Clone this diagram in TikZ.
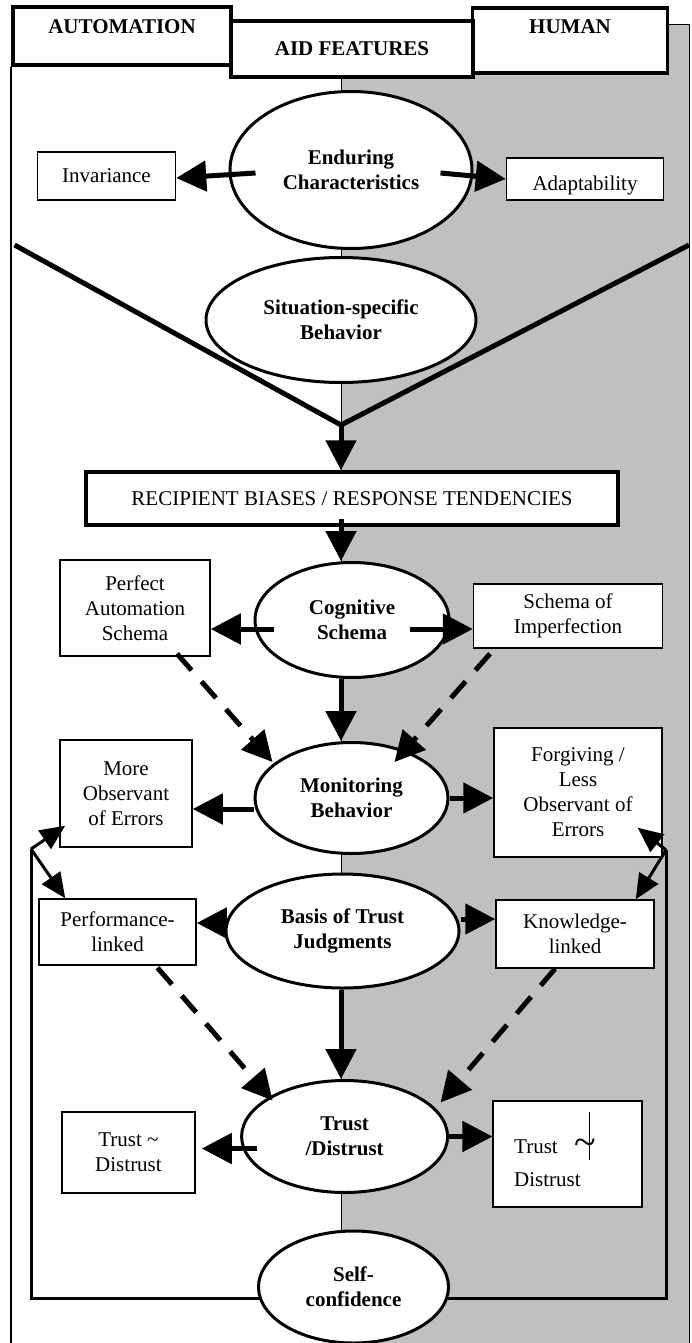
\documentclass[tikz,border=0pt]{standalone}
\usepackage{fontspec}
\setmainfont{Liberation Serif}
\usetikzlibrary{arrows.meta,shapes.geometric,calc}
\definecolor{shade}{RGB}{192,192,192}

\begin{document}
\begin{tikzpicture}[x=1pt, y=-1pt,
  every node/.style={font=\fontsize{21}{25}\selectfont, align=center, inner sep=0pt},
  hdr/.style={draw, line width=3.5pt, fill=white, font=\fontsize{21}{25}\selectfont\bfseries},
  box/.style={draw, line width=1.5pt, fill=white},
  oval/.style={ellipse, draw, line width=3pt, fill=white, font=\fontsize{21}{25}\selectfont\bfseries},
  arr/.style={line width=5pt, -{Triangle[length=30pt,width=30pt]}},
  darr/.style={arr, dash pattern=on 22pt off 15pt},
  larr/.style={line width=3pt, -{Triangle[length=25pt,width=22pt]}}]

\useasboundingbox (0,0) rectangle (691,1343);

% human half
\draw[fill=shade, line width=1pt] (341,25) rectangle (689,1360);

% column heads
\node[hdr, minimum width=218pt, minimum height=58pt, text height=14pt, text depth=18pt] (auto) at (122,36) {AUTOMATION};
\node[hdr, minimum width=195pt, minimum height=65pt, text height=14pt, text depth=27pt] (hum) at (570,40.5) {HUMAN};
\node[hdr, minimum width=242pt, minimum height=56pt] (aid) at (352,49) {AID FEATURES};
\draw[line width=2pt] (auto.south west) -- ++(0,1300);

% funnel
\coordinate (vl) at (14.6,245);
\coordinate (vr) at (689,245);
\coordinate (apex) at (341,425);
\draw[line width=5pt] (vl) -- (apex) -- (vr);

% feedback loop
\coordinate (lt) at (31,849);
\coordinate (lb) at (31,1298);
\coordinate (rb) at (666,1298);
\coordinate (rt) at (666,850);
\draw[line width=3pt] (lt) -- (lb) -- (rb) -- (rt);

% ovals
\node[oval, minimum width=242pt, minimum height=157pt] (endur) at (351,170) {Enduring\\Characteristics};
\node[oval, minimum width=270pt, minimum height=125pt] (situ) at (341,320) {Situation-specific\\Behavior};
\node[oval, minimum width=194pt, minimum height=115pt] (cog) at (352,620) {Cognitive\\Schema};
\node[oval, minimum width=193pt, minimum height=111pt] (mon) at (351.5,798) {Monitoring\\Behavior};
\node[oval, minimum width=233pt, minimum height=114pt] (basis) at (342.5,931) {Basis of Trust\\Judgments};
\node[oval, minimum width=206pt, minimum height=112pt] (trust) at (344.6,1136.5) {Trust\\/Distrust};
\node[oval, minimum width=190pt, minimum height=112pt] (self) at (353.5,1287) {Self-\\confidence};

% boxes
\node[hdr, font=\fontsize{21}{25}\selectfont, minimum width=532pt, minimum height=53pt] (recip) at (352,498.5) {RECIPIENT BIASES / RESPONSE TENDENCIES};
\node[box, minimum width=138pt, minimum height=48pt] (inv) at (106.5,176) {Invariance};
\node[box, minimum width=157pt, minimum height=42pt, text height=24pt, text depth=0pt] (adapt) at (585,179) {Adaptability};
\node[box, minimum width=150pt, minimum height=96pt] (perf) at (135,608) {Perfect\\Automation\\Schema};
\node[box, minimum width=189pt, minimum height=64pt] (imperf) at (568,616) {Schema of\\Imperfection};
\node[box, minimum width=132pt, minimum height=107pt] (more) at (126,793.5) {More\\Observant\\of Errors};
\node[box, minimum width=168pt, minimum height=129pt] (forg) at (578,792.5) {Forgiving /\\Less\\Observant of\\Errors};
\node[box, minimum width=157pt, minimum height=66pt] (perfl) at (117.5,932) {Performance-\\linked};
\node[box, minimum width=158pt, minimum height=68pt] (know) at (575,934) {Knowledge-\\linked};
\node[box, minimum width=133pt, minimum height=81pt] (tdl) at (128.5,1152.5) {Trust \textasciitilde\\Distrust};
\node[box, minimum width=149pt, minimum height=106pt] (tdr) at (567.7,1154) {};
\node[anchor=west] (tdrt) at (514,1147) {Trust};
\node[anchor=west] (tdrd) at (514,1180) {Distrust};
\node[font=\fontsize{40}{40}\selectfont] (tilde) at (585,1147) {\textasciitilde};
\draw[line width=1.5pt] ([shift={(4.5,-35)}]tilde.center) -- ([shift={(4.5,13)}]tilde.center);

% arrows
\draw[arr] ([shift={(27,3)}]endur.west) -- ([shift={(0,2)}]inv.east);
\draw[arr] ([shift={(-33,3)}]endur.east) -- (adapt.west);
\draw[arr] (apex) -- (apex |- recip.north);
\draw[arr] ([shift={(0,-8)}]recip.south -| apex) -- (cog.north -| apex);

\draw[arr] ([shift={(20,9)}]cog.west) coordinate (c1) -- (c1 -| perf.east);
\draw[arr] ([shift={(-41,9)}]cog.east) coordinate (c2) -- (c2 -| imperf.west);
\draw[arr] (cog.south -| apex) -- (mon.north -| apex);
\draw[darr] ([shift={(42,-3)}]perf.south) -- ([shift={(-79,-36)}]mon.center);
\draw[darr] ([shift={(-78,5)}]imperf.south) -- ([shift={(43,-36)}]mon.center);

\draw[arr] ([shift={(0,11)}]mon.west) coordinate (c3) -- (c3 -| more.east);
\draw[arr] (mon.east) -- (mon.east -| forg.west);
\draw[larr] (lt) -- ([shift={(6,-22)}]more.south west);
\draw[larr] (lt) -- ([shift={(27,0)}]perfl.north west);
\draw[larr] (rt) -- ([shift={(-25,-30)}]forg.south east);
\draw[larr] (rt) -- ([shift={(-19,0)}]know.north east);

\draw[arr] ([shift={(0,-8)}]basis.west) coordinate (c4) -- (c4 -| perfl.east);
\draw[arr] ([shift={(0,-12)}]basis.east) coordinate (c5) -- (c5 -| know.west);
\draw[arr] (basis.south -| apex) -- (trust.north -| apex);
\draw[darr] ([shift={(40,2)}]perfl.south) -- ([shift={(-72,-36)}]trust.center);
\draw[darr] ([shift={(-20,0)}]know.south) -- ([shift={(96,-34)}]trust.center);

\draw[arr, shorten >=6pt] ([shift={(17,12)}]trust.west) coordinate (c6) -- (c6 -| tdl.east);
\draw[arr] (trust.east) -- (trust.east -| tdr.west);
\end{tikzpicture}
\end{document}
